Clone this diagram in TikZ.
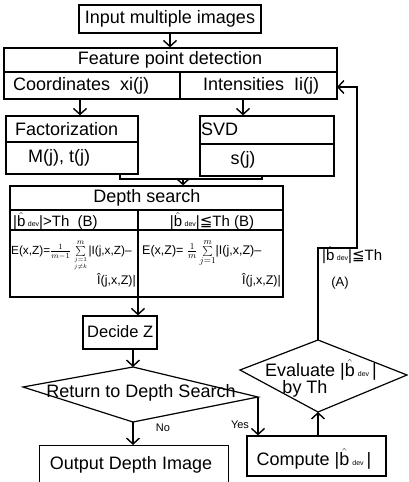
\documentclass[tikz,border=0pt]{standalone}
\usepackage{fontspec}
\setmainfont{Liberation Sans}
\newfontfamily\symfont{DejaVu Sans}
\usetikzlibrary{arrows.meta}
\newcommand\fs[1]{\fontsize{#1}{#1}\selectfont}
\newcommand\bhat{\ensuremath{\hat{\mbox{b}}}}
\newcommand\bdev{|\bhat\,{\fs{7}dev}|}
\newcommand\bdevs{|\bhat\,{\fs{7}dev}\,|}
\begin{document}
\begin{tikzpicture}[x=1pt,y=-1pt,
  box/.style={draw,line width=1.2pt,inner sep=0pt},
  lbl/.style={inner sep=0pt,font=\fs{18}},
  sml/.style={inner sep=0pt,font=\fs{15}},
  frm/.style={inner sep=0pt,font=\fs{12.5}},
  tiny/.style={inner sep=0pt,font=\fs{11}},
  conn/.style={line width=1.8pt,-{Straight Barb[length=6pt,width=13pt,line width=1.4pt]}},
  ln/.style={line width=1.2pt},
  wire/.style={line width=1.8pt}]
\useasboundingbox (0,0) rectangle (408,482);
\clip (0,0) rectangle (408,482);

% Input
\node[box,lbl,minimum width=182pt,minimum height=28pt] (inp) at (170,19) {Input multiple images};

% Feature point detection
\node[box,minimum width=333pt,minimum height=51pt] (feat) at (170.5,73.5) {};
\draw[ln] (4,72) -- (337,72);
\draw[ln] (180,72) -- (180,99);
\node[lbl] (fpd) at (170,60) {Feature point detection};
\node[lbl,anchor=west] (crd) at (13,86) {Coordinates\ \ xi(j)};
\node[lbl,anchor=west] (int) at (203,86) {Intensities\ \ Ii(j)};
\draw[conn] (inp.south) -- (inp.south |- feat.north);

% Factorization
\node[box,minimum width=132pt,minimum height=58pt] (fact) at (72,145) {};
\draw[ln] (6,142) -- (138,142);
\node[lbl,anchor=west] (factt) at (15,129) {Factorization};
\node[lbl,anchor=west] (mt) at (28,158) {M(j), t(j)};

% SVD
\node[box,minimum width=134pt,minimum height=60pt] (svd) at (267,146) {};
\draw[ln] (200,144) -- (334,144);
\node[lbl,anchor=west] (svdt) at (201,129) {SVD};
\node[lbl] (sj) at (243,160) {s(j)};

\coordinate (crdB) at (80,99);
\coordinate (intB) at (243,99);
\draw[conn] (crdB) -- (crdB |- fact.north);
\draw[conn] (intB) -- (intB |- svd.north);

% join
\coordinate (fj) at (120,174);
\coordinate (sjn) at (262,176);
\coordinate (jl) at (120,179);
\coordinate (jr) at (262,179);
\coordinate (jm) at (183,179);
\draw[wire] (fj) -- (jl) -- (jr) -- (sjn);

% Depth search
\node[box,minimum width=273pt,minimum height=111pt] (dep) at (146.5,241.5) {};
\draw[ln] (10,210) -- (283,210);
\draw[ln] (10,230) -- (283,230);
\draw[ln] (138,210) -- (138,297);
\draw[conn] (jm) -- (jm |- dep.north);
\node[lbl] (dst) at (147,198) {Depth search};
\node[sml,anchor=west] (cl) at (13,221) {\bdev>Th\ \ (B)};
\node[sml] (cr) at (212,221) {\bdev{\symfont ≦}Th\ (B)};
\node[frm,font=\fs{11.8},anchor=base west] (fl1) at (11,254) {E(x,Z)=$\frac{1}{m-1}\sum\limits_{j=1\atop j\neq k}^{m}$|I(j,x,Z)--};
\node[frm,anchor=base east] (fl2) at (136,284) {\^{I}(j,x,Z)|};
\node[frm,anchor=base west] (fr1) at (142,254) {E(x,Z)= $\frac{1}{m}\sum\limits_{j=1}^{m}$|I(j,x,Z)--};
\node[frm,anchor=base east] (fr2) at (281,284) {\^{I}(j,x,Z)|};

% Decide Z
\node[box,minimum width=74pt,minimum height=33pt] (dec) at (120,332.5) {};
\node[lbl,font=\fs{16.5},anchor=west] (dect) at (87,332) {Decide Z};
\coordinate (depB) at (138,297);
\draw[conn] (depB) -- (depB |- dec.north);

% Diamond 1
\coordinate (d1t) at (133,367);
\coordinate (d1r) at (258,397);
\coordinate (d1b) at (133,422);
\coordinate (d1l) at (23,387);
\draw[ln] (d1t) -- (d1r) -- (d1b) -- (d1l) -- cycle;
\coordinate (decB) at (133,349);
\draw[conn] (decB) -- (d1t);
\node[lbl] (rett) at (141,393) {Return to Depth Search};

% Output
\node[box,minimum width=189pt,minimum height=60pt,anchor=north west] (out) at (39,445) {};
\node[lbl] (outt) at (131,465) {Output Depth Image};
\draw[conn] (d1b) -- (d1b |- out.north);
\node[tiny] (no) at (163,428) {No};

% Compute
\node[box,minimum width=139pt,minimum height=40pt] (cmp) at (316.5,456) {};
\node[lbl] (cmpt) at (314,459) {Compute \bdevs};
\draw[conn] (d1r) -- (d1r |- cmp.north);
\node[tiny] (yes) at (240,425) {Yes};

% Diamond 2
\coordinate (d2t) at (318,340);
\coordinate (d2r) at (407,375);
\coordinate (d2b) at (318,412);
\coordinate (d2l) at (240,370);
\draw[ln] (d2t) -- (d2r) -- (d2b) -- (d2l) -- cycle;
\draw[conn] (d2b |- cmp.north) -- (d2b);
\node[lbl] (ev1) at (321,370) {Evaluate \bdevs};
\node[lbl] (ev2) at (305,389) {by Th};

% feedback
\coordinate (fa) at (318,248);
\coordinate (fb) at (357,248);
\coordinate (featIn) at (337,87);
\draw[conn] (d2t) -- (fa) -- (fb) |- (featIn);
\node[sml,anchor=west] (fbl) at (322,255) {\bdev{\symfont ≦}Th};
\node[tiny,font=\fs{13}] (fba) at (340,283) {(A)};
\end{tikzpicture}
\end{document}
